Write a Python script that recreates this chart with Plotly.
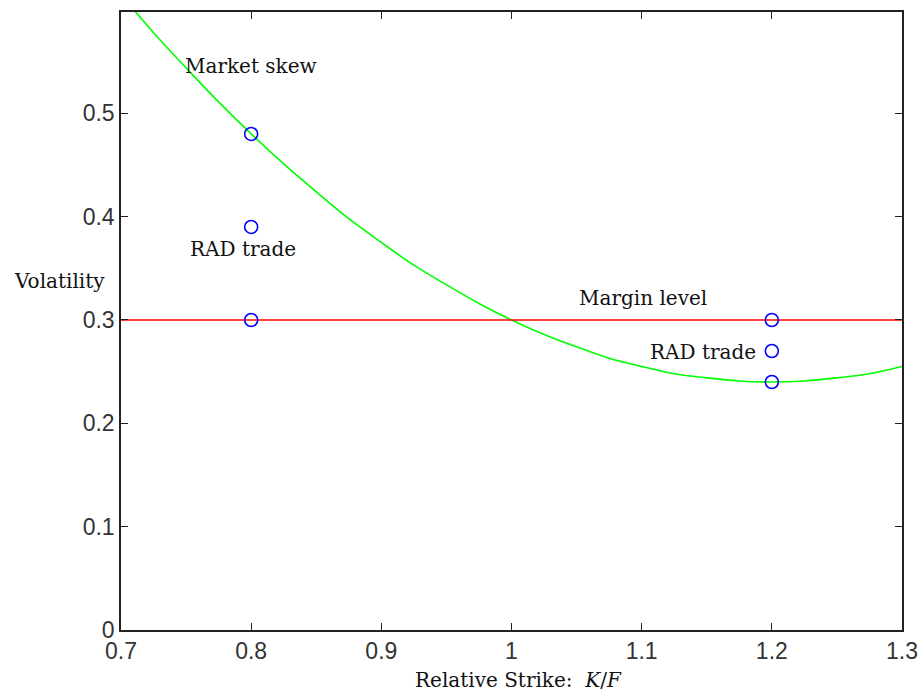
import plotly.graph_objects as go

# Market implied-volatility skew across relative strikes
skew_strike = [0.700, 0.725, 0.750, 0.775, 0.800, 0.825, 0.850, 0.875, 0.900,
               0.925, 0.950, 0.975, 1.000, 1.025, 1.050, 1.075, 1.100, 1.125,
               1.150, 1.175, 1.200, 1.225, 1.250, 1.275, 1.300]
skew_vol = [0.615, 0.578, 0.544, 0.511, 0.480, 0.451, 0.424, 0.398, 0.375,
            0.353, 0.334, 0.316, 0.300, 0.286, 0.274, 0.263, 0.255, 0.248,
            0.244, 0.241, 0.240, 0.241, 0.244, 0.248, 0.255]

# Flat margin volatility level
margin_strike = [0.7, 1.3]
margin_vol = [0.30, 0.30]

# Volatilities at the two traded strikes (market, RAD trade, margin)
point_strike = [0.8, 0.8, 0.8, 1.2, 1.2, 1.2]
point_vol = [0.48, 0.39, 0.30, 0.30, 0.27, 0.24]

x_ticks = [0.7, 0.8, 0.9, 1.0, 1.1, 1.2, 1.3]
y_ticks = [0, 0.1, 0.2, 0.3, 0.4, 0.5]

serif = "DejaVu Serif"
sans = "Liberation Sans"

fig = go.Figure()
fig.add_trace(go.Scatter(x=skew_strike, y=skew_vol, mode="lines",
                         line=dict(color="#00ff00", width=1.6, shape="spline"),
                         showlegend=False, hoverinfo="skip"))
fig.add_trace(go.Scatter(x=margin_strike, y=margin_vol, mode="lines",
                         line=dict(color="#ff0000", width=1.6),
                         showlegend=False, hoverinfo="skip"))
fig.add_trace(go.Scatter(x=point_strike, y=point_vol, mode="markers",
                         marker=dict(symbol="circle-open", size=13, color="#0000ff",
                                     line=dict(width=1.6, color="#0000ff")),
                         showlegend=False, cliponaxis=False))

txt = dict(family=serif, size=20, color="#111111")
annotations = [
    dict(x=0.8, y=0.546, text="Market skew", xanchor="center", yanchor="middle"),
    dict(x=0.794, y=0.369, text="RAD trade", xanchor="center", yanchor="middle"),
    dict(x=1.101, y=0.321, text="Margin level", xanchor="center", yanchor="middle"),
    dict(x=1.189, y=0.269, text="RAD trade", xanchor="right", yanchor="middle"),
]
for a in annotations:
    a.update(xref="x", yref="y", showarrow=False, font=txt)

annotations.append(dict(xref="paper", yref="y", x=-0.14, y=0.338, text="Volatility",
                        xanchor="left", yanchor="middle", showarrow=False, font=txt))
annotations.append(dict(xref="paper", yref="paper", x=0.509, y=-0.081,
                        text="Relative Strike:  <i>K</i>/<i>F</i>",
                        xanchor="center", yanchor="middle", showarrow=False,
                        font=dict(family=serif, size=20, color="#111111")))

axis_common = dict(showline=True, linecolor="#222222", linewidth=1.5, mirror="ticks",
                   ticks="inside", ticklen=7, tickwidth=1.3, tickcolor="#222222",
                   showgrid=False, zeroline=False, automargin=False,
                   tickfont=dict(family=sans, size=23, color="#333333"))

fig.update_layout(
    width=919, height=692,
    margin=dict(l=121, r=17, t=12, b=62),
    paper_bgcolor="white", plot_bgcolor="white",
    xaxis=dict(range=[0.7, 1.3], tickvals=x_ticks,
               ticktext=["0.7", "0.8", "0.9", "1", "1.1", "1.2", "1.3"], **axis_common),
    yaxis=dict(range=[0, 0.598], tickvals=y_ticks,
               ticktext=["0", "0.1", "0.2", "0.3", "0.4", "0.5"], **axis_common),
    annotations=annotations,
)

fig.write_html("out.html")
